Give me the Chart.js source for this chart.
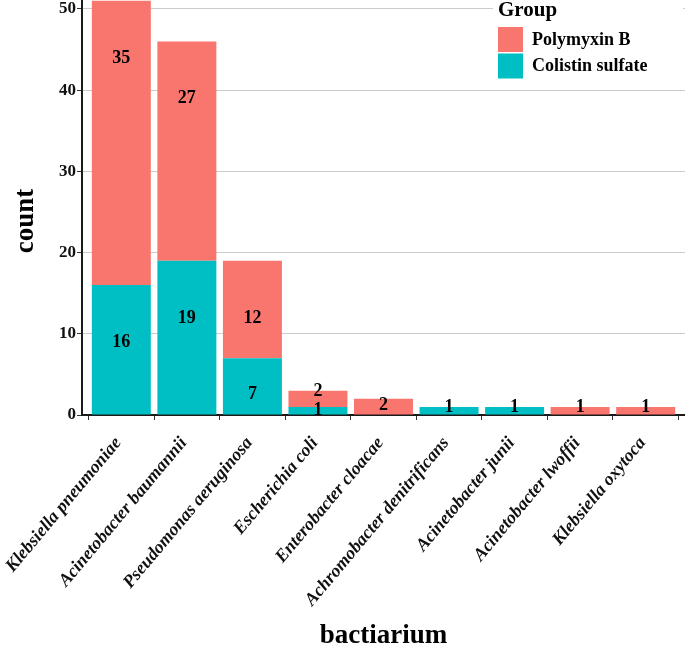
<!DOCTYPE html>
<html>
<head>
<meta charset="utf-8">
<script src="https://cdn.jsdelivr.net/npm/chart.js@4/dist/chart.umd.min.js"></script>
<style>
  html, body { margin: 0; padding: 0; background: #ffffff; }
  #wrap { width: 685px; height: 646px; }
</style>
</head>
<body>
<div id="wrap"><canvas id="c" width="685" height="646"></canvas></div>
<script>
// ---- data ----
const categories = [
  "Klebsiella pneumoniae", "Acinetobacter baumannii", "Pseudomonas aeruginosa",
  "Escherichia coli", "Enterobacter cloacae", "Achromobacter denitrificans",
  "Acinetobacter junii", "Acinetobacter lwoffii", "Klebsiella oxytoca"
];
const colistin   = [16, 19, 7, 1, 0, 1, 1, 0, 0];
const polymyxin  = [35, 27, 12, 2, 2, 0, 0, 1, 1];
// where the reference prints each count label (in count units)
const colistinLabelAt  = [8.95, 11.9, 2.6, 0.62, 0, 1.0, 1.0, 0, 0];
const polymyxinLabelAt = [43.9, 39.0, 11.9, 2.87, 1.23, 0, 0, 1.0, 1.0];
const yTicks = [0, 10, 20, 30, 40, 50];
const groupTitle = "Group";
const seriesNames = ["Polymyxin B", "Colistin sulfate"];
const xTitle = "bactiarium";
const yTitle = "count";

const COL_POLY = "#F8766D";
const COL_COLI = "#00BFC4";
const SERIF = "'Liberation Serif', 'Times New Roman', serif";

const labelPlugin = {
  id: 'labelsAndLegend',
  afterDatasetsDraw(chart) {
    const ctx = chart.ctx;
    const xs = chart.scales.x, ys = chart.scales.y;
    ctx.save();
    ctx.font = "bold 18px " + SERIF;
    ctx.fillStyle = "#000";
    ctx.textAlign = "center";
    ctx.textBaseline = "middle";
    const sets = [[colistin, colistinLabelAt], [polymyxin, polymyxinLabelAt]];
    sets.forEach(([vals, at]) => {
      vals.forEach((v, i) => {
        if (!v) return;
        ctx.fillText(String(v), xs.getPixelForValue(i), ys.getPixelForValue(at[i]));
      });
    });
    // legend (inside the panel, top-right)
    const lx = 498, ly = 0;
    ctx.fillStyle = "#ffffff";
    ctx.fillRect(lx - 5, ly, 190, 82);
    ctx.fillStyle = "#000";
    ctx.textAlign = "left";
    ctx.textBaseline = "alphabetic";
    ctx.font = "bold 21px " + SERIF;
    ctx.fillText(groupTitle, lx, ly + 16);
    const cols = [COL_POLY, COL_COLI];
    ctx.font = "bold 18px " + SERIF;
    seriesNames.forEach((n, k) => {
      const by = ly + 27 + k * 26.5;
      ctx.fillStyle = cols[k];
      ctx.fillRect(lx, by, 25, 25);
      ctx.fillStyle = "#000";
      ctx.textBaseline = "middle";
      ctx.fillText(n, lx + 34, by + 13);
    });
    // axis titles
    ctx.font = "bold 27px " + SERIF;
    ctx.textAlign = "center";
    ctx.textBaseline = "alphabetic";
    ctx.fillText(xTitle, (xs.left + xs.right) / 2, 643);
    ctx.translate(33, 221);
    ctx.rotate(-Math.PI / 2);
    ctx.fillText(yTitle, 0, 0);
    ctx.restore();
  }
};

new Chart(document.getElementById('c'), {
  type: 'bar',
  data: {
    datasets: [
      { label: seriesNames[1], data: colistin.map((v, i) => ({ x: i, y: v })),
        backgroundColor: COL_COLI, borderWidth: 0 },
      { label: seriesNames[0], data: polymyxin.map((v, i) => ({ x: i, y: v })),
        backgroundColor: COL_POLY, borderWidth: 0 }
    ]
  },
  options: {
    responsive: false,
    animation: false,
    devicePixelRatio: 1,
    layout: { padding: { left: 0, right: 0, top: 0, bottom: 0 } },
    datasets: { bar: { barPercentage: 0.9, categoryPercentage: 1.0 } },
    plugins: { legend: { display: false }, tooltip: { enabled: false } },
    scales: {
      x: {
        type: 'linear', stacked: true, min: -0.6, max: 8.6, offset: false,
        afterBuildTicks: s => { s.ticks = categories.map((_, i) => ({ value: i })); },
        afterFit: s => { s.height = 231; s.paddingLeft = 0; s.paddingRight = 0; },
        grid: { drawOnChartArea: false, tickLength: 5, tickColor: '#333', tickWidth: 1 },
        border: { display: true, color: '#1a1a1a', width: 2 },
        ticks: {
          autoSkip: false, minRotation: 50, maxRotation: 50, padding: 13, labelOffset: -3,
          color: '#111', font: { family: SERIF, size: 18, weight: 'bold', style: 'italic' },
          callback: v => categories[v]
        },
        title: { display: false }
      },
      y: {
        stacked: true, min: 0, max: 51.1,
        afterBuildTicks: s => { s.ticks = yTicks.map(v => ({ value: v })); },
        afterFit: s => { s.width = 82; s.paddingTop = 0; s.paddingBottom = 0; },
        grid: { color: '#cccccc', lineWidth: 1, tickLength: 5, tickColor: '#333' },
        border: { display: true, color: '#1a1a1a', width: 2 },
        ticks: { padding: 1, color: '#111', font: { family: SERIF, size: 17, weight: 'bold' } },
        title: { display: false }
      }
    }
  },
  plugins: [labelPlugin]
});
</script>
</body>
</html>
